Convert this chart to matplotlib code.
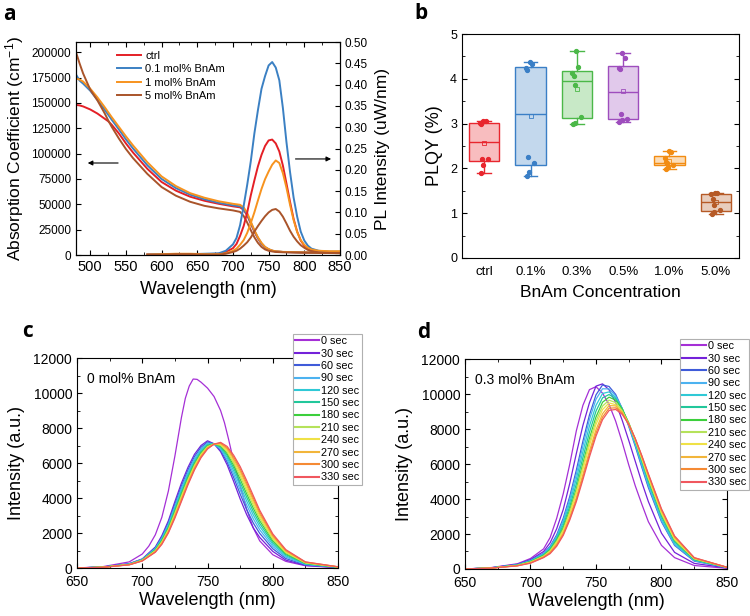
import matplotlib
matplotlib.use('Agg')
import matplotlib.pyplot as plt
import numpy as np
from matplotlib.ticker import MultipleLocator, FormatStrFormatter
from matplotlib.lines import Line2D

plt.rcParams['font.family'] = ['Liberation Sans', 'DejaVu Sans']
plt.rcParams['mathtext.default'] = 'regular'

# ---------------- panel a : absorption + PL ----------------
abs_wl = [480, 485, 490, 500, 510, 520, 525, 530, 540, 550, 560, 580, 600, 620, 640, 660,
          680, 700, 710, 715, 720, 725, 730, 735, 740, 745, 750, 755, 760, 770, 800, 850]
abs_ctrl = [148000, 147500, 146500, 143500, 139500, 134500, 132000, 128500, 120000, 110000,
            101000, 85000, 72000, 63500, 57500, 53500, 50500, 48000, 47000, 44500, 39000,
            31000, 23000, 16500, 11000, 7500, 5500, 4200, 3500, 3000, 2500, 2000]
abs_01 = [178000, 172000, 169000, 162000, 153000, 143500, 138500, 133500, 124000, 114000,
          105000, 88500, 75000, 66000, 59500, 55000, 51500, 49000, 48000, 45500, 40000,
          32000, 24000, 17000, 11500, 7800, 5700, 4300, 3600, 3000, 2500, 2000]
abs_1 = [174000, 173000, 171000, 164000, 155500, 146000, 141000, 136000, 126500, 117000,
         108000, 91500, 77500, 68000, 61000, 56500, 53000, 50500, 49500, 47000, 41500,
         33000, 24500, 17500, 12000, 8000, 5800, 4400, 3700, 3100, 2600, 2100]
abs_5 = [200000, 189000, 179000, 163000, 152500, 140000, 133000, 126500, 115000, 104500,
         95500, 80000, 67000, 58500, 52500, 48500, 46000, 44000, 42500, 38500, 32000,
         24500, 17500, 12000, 8000, 5500, 4200, 3500, 3000, 2700, 2300, 1800]

pl_wl = [580, 600, 620, 640, 660, 680, 690, 700, 705, 710, 715, 720, 725, 730, 735, 740, 745,
         750, 755, 760, 765, 770, 775, 780, 785, 790, 795, 800, 805, 810, 820, 835, 850]
pl_ctrl = [0.001, 0.001, 0.002, 0.002, 0.002, 0.003, 0.007, 0.016, 0.026, 0.045, 0.068, 0.100,
           0.140, 0.175, 0.208, 0.235, 0.256, 0.269, 0.271, 0.262, 0.243, 0.210, 0.168, 0.125,
           0.085, 0.055, 0.034, 0.022, 0.015, 0.011, 0.008, 0.007, 0.007]
pl_01 = [0.001, 0.002, 0.002, 0.002, 0.003, 0.004, 0.010, 0.025, 0.040, 0.070, 0.115, 0.165,
         0.220, 0.285, 0.340, 0.390, 0.420, 0.445, 0.453, 0.440, 0.410, 0.345, 0.265, 0.195,
         0.135, 0.090, 0.055, 0.034, 0.022, 0.015, 0.010, 0.008, 0.008]
pl_1 = [0.001, 0.002, 0.003, 0.003, 0.002, 0.002, 0.004, 0.010, 0.015, 0.024, 0.035, 0.052,
        0.075, 0.100, 0.128, 0.155, 0.178, 0.196, 0.212, 0.222, 0.216, 0.192, 0.158, 0.118,
        0.082, 0.054, 0.035, 0.024, 0.017, 0.013, 0.010, 0.009, 0.009]
pl_5 = [0.001, 0.001, 0.002, 0.002, 0.001, 0.001, 0.003, 0.007, 0.010, 0.015, 0.022, 0.030,
        0.041, 0.055, 0.068, 0.080, 0.091, 0.100, 0.106, 0.108, 0.102, 0.090, 0.074, 0.057,
        0.043, 0.032, 0.023, 0.017, 0.012, 0.009, 0.006, 0.005, 0.005]

a_labels = ['ctrl', '0.1 mol% BnAm', '1 mol% BnAm', '5 mol% BnAm']
a_colors = ['#e41f26', '#3b80c3', '#f7931e', '#a9542a']

# ---------------- panel b : PLQY ----------------
b_groups = ['ctrl', '0.1%', '0.3%', '0.5%', '1.0%', '5.0%']
plqy_ctrl = [3.06, 3.05, 3.01, 2.98, 2.22, 2.20, 2.08, 1.90]
plqy_01 = [4.37, 4.33, 4.25, 4.19, 2.26, 2.13, 1.91, 1.84]
plqy_03 = [4.63, 4.26, 4.14, 4.06, 3.86, 3.15, 3.01, 2.98]
plqy_05 = [4.57, 4.46, 4.23, 4.21, 3.21, 3.10, 3.07, 3.04]
plqy_10 = [2.38, 2.36, 2.24, 2.15, 2.11, 2.08, 2.02, 1.99]
plqy_50 = [1.46, 1.45, 1.43, 1.32, 1.18, 1.06, 1.02, 0.99]
b_colors = ['#e8262e', '#3a7fc6', '#4bb848', '#9e4dbd', '#f28c12', '#b65a26']

# ---------------- panels c, d : spectra vs time ----------------
time_labels = ['0 sec', '30 sec', '60 sec', '90 sec', '120 sec', '150 sec', '180 sec',
               '210 sec', '240 sec', '270 sec', '300 sec', '330 sec']
time_colors = ['#a52fd6', '#7422d9', '#3f5bd9', '#4cb2f0', '#2fc9d6', '#22c79b', '#3ccf3c',
               '#b5e25a', '#efe146', '#f2b53a', '#f58a34', '#f0575e']

spec_wl = [650, 670, 690, 700, 710, 715, 720, 725, 730, 735, 740, 745, 750, 755, 760, 765,
           770, 775, 780, 785, 790, 800, 810, 825, 850]

# 0 sec / 0 mol% has a sharper peak, so it is read on its own finer grid
c0_wl = [650, 670, 690, 700, 705, 710, 715, 720, 725, 730, 733, 736, 739, 742, 745, 750, 755,
         760, 763, 766, 770, 775, 780, 785, 790, 800, 810, 825, 850]
c_0s = [0, 80, 350, 800, 1250, 1900, 2900, 4400, 6400, 8600, 9700, 10400, 10800, 10780, 10620,
        10280, 9800, 9000, 8300, 7400, 6100, 4700, 3350, 2300, 1550, 760, 380, 130, 20]
c_30s = [0, 60, 250, 520, 1200, 1850, 2700, 3800, 4850, 5750, 6500, 7000, 7270, 7100, 6650,
         5900, 4950, 3950, 3050, 2300, 1750, 950, 450, 150, 30]
c_60s = [0, 60, 240, 500, 1160, 1780, 2600, 3660, 4690, 5600, 6370, 6900, 7200, 7100, 6730,
         6060, 5180, 4230, 3340, 2580, 1980, 1100, 540, 180, 40]
c_90s = [0, 50, 230, 490, 1120, 1710, 2500, 3530, 4560, 5470, 6250, 6800, 7140, 7090, 6800,
         6190, 5370, 4470, 3600, 2820, 2180, 1230, 620, 210, 40]
c_120s = [0, 50, 220, 470, 1080, 1650, 2420, 3420, 4430, 5350, 6140, 6720, 7080, 7090, 6860,
          6320, 5550, 4690, 3830, 3040, 2370, 1350, 690, 230, 50]
c_150s = [0, 50, 210, 460, 1050, 1600, 2340, 3320, 4310, 5240, 6040, 6640, 7030, 7090, 6920,
          6440, 5720, 4890, 4050, 3240, 2540, 1460, 760, 250, 50]
c_180s = [0, 50, 210, 450, 1020, 1550, 2270, 3220, 4210, 5140, 5950, 6570, 6980, 7090, 6970,
          6540, 5870, 5080, 4240, 3430, 2700, 1560, 820, 270, 50]
c_210s = [0, 50, 200, 440, 990, 1500, 2210, 3140, 4120, 5050, 5870, 6510, 6940, 7090, 7020,
          6640, 6000, 5250, 4420, 3600, 2840, 1650, 870, 290, 60]
c_240s = [0, 40, 200, 430, 970, 1460, 2150, 3060, 4030, 4970, 5800, 6450, 6900, 7080, 7060,
          6720, 6120, 5390, 4570, 3740, 2960, 1730, 920, 310, 60]
c_270s = [0, 40, 190, 420, 940, 1420, 2100, 2980, 3950, 4890, 5730, 6400, 6870, 7080, 7110,
          6800, 6240, 5540, 4730, 3890, 3080, 1810, 970, 320, 60]
c_300s = [0, 40, 190, 410, 920, 1390, 2050, 2920, 3870, 4820, 5660, 6350, 6830, 7080, 7140,
          6880, 6350, 5670, 4860, 4020, 3190, 1880, 1010, 340, 70]
c_330s = [0, 40, 180, 400, 900, 1350, 2000, 2850, 3800, 4750, 5600, 6300, 6800, 7080, 7180,
          6950, 6450, 5800, 5000, 4150, 3300, 1950, 1050, 350, 70]

d_0s = [0, 80, 300, 600, 1150, 1800, 2900, 4300, 6000, 7900, 9350, 10250, 10420, 10050, 9400,
        8450, 7250, 5950, 4750, 3700, 2700, 1350, 650, 200, 40]
d_30s = [0, 70, 270, 540, 1000, 1500, 2300, 3400, 4900, 6600, 8200, 9500, 10450, 10580, 10240,
         9520, 8500, 7350, 6150, 4950, 3850, 2050, 950, 320, 60]
d_60s = [0, 65, 250, 500, 900, 1300, 1950, 2900, 4150, 5650, 7300, 8800, 9950, 10520, 10430,
         9980, 9170, 8150, 7010, 5810, 4650, 2700, 1350, 450, 80]
d_90s = [0, 63, 240, 475, 870, 1250, 1870, 2780, 4000, 5430, 7040, 8540, 9700, 10300, 10290,
         9890, 9170, 8210, 7090, 5910, 4760, 2760, 1390, 480, 85]
d_120s = [0, 61, 230, 455, 830, 1200, 1800, 2650, 3800, 5150, 6700, 8170, 9350, 10030, 10120,
          9800, 9160, 8260, 7180, 6030, 4890, 2880, 1470, 500, 88]
d_150s = [0, 59, 220, 435, 800, 1150, 1720, 2500, 3580, 4860, 6360, 7810, 9020, 9780, 9970,
          9730, 9150, 8310, 7280, 6160, 5020, 3000, 1560, 530, 90]
d_180s = [0, 57, 212, 415, 770, 1100, 1650, 2350, 3380, 4580, 6030, 7470, 8690, 9530, 9820,
          9650, 9140, 8360, 7380, 6290, 5160, 3130, 1650, 560, 92]
d_210s = [0, 55, 205, 395, 740, 1050, 1580, 2250, 3270, 4450, 5850, 7250, 8460, 9310, 9650,
          9510, 9050, 8310, 7360, 6290, 5180, 3170, 1680, 580, 94]
d_240s = [0, 54, 198, 380, 710, 1000, 1500, 2180, 3170, 4330, 5690, 7050, 8250, 9110, 9490,
          9390, 8970, 8260, 7340, 6300, 5210, 3210, 1710, 600, 96]
d_270s = [0, 53, 192, 365, 690, 960, 1430, 2050, 2980, 4080, 5400, 6740, 7960, 8870, 9340,
          9320, 8960, 8310, 7440, 6430, 5360, 3340, 1810, 620, 98]
d_300s = [0, 51, 186, 348, 670, 920, 1360, 1980, 2880, 3950, 5240, 6560, 7760, 8680, 9190,
          9210, 8890, 8270, 7430, 6440, 5390, 3390, 1850, 640, 99]
d_330s = [0, 50, 180, 330, 650, 880, 1300, 1920, 2800, 3850, 5100, 6400, 7590, 8530, 9060,
          9120, 8840, 8260, 7450, 6480, 5440, 3440, 1890, 650, 100]

c_curves = [c_0s, c_30s, c_60s, c_90s, c_120s, c_150s, c_180s, c_210s, c_240s, c_270s,
            c_300s, c_330s]
c_grids = [c0_wl] + [spec_wl] * 11
d_curves = [d_0s, d_30s, d_60s, d_90s, d_120s, d_150s, d_180s, d_210s, d_240s, d_270s,
            d_300s, d_330s]
d_grids = [spec_wl] * 12

fig = plt.figure(figsize=(7.5, 6.16), dpi=100)

# panel a
ax_a = fig.add_axes([0.1013, 0.586, 0.352, 0.3458])
for y, c, lab in zip([abs_ctrl, abs_01, abs_1, abs_5], a_colors, a_labels):
    ax_a.plot(abs_wl, y, color=c, lw=1.4, label=lab)
ax_a.set_xlim(480, 850)
ax_a.set_ylim(0, 210000)
ax_a.xaxis.set_major_locator(MultipleLocator(50))
ax_a.xaxis.set_minor_locator(MultipleLocator(25))
ax_a.yaxis.set_major_locator(MultipleLocator(25000))
ax_a.tick_params(direction='in', which='both', top=True)
ax_a.tick_params(axis='x', labelsize=10.5)
ax_a.tick_params(axis='y', labelsize=8.5)
ax_a.set_xlabel('Wavelength (nm)', fontsize=13, labelpad=5)
ax_a.set_ylabel('Absorption Coefficient (cm$^{-1}$)', fontsize=12.5, labelpad=4)

ax_a2 = ax_a.twinx()
for y, c in zip([pl_ctrl, pl_01, pl_1, pl_5], a_colors):
    ax_a2.plot(pl_wl, y, color=c, lw=1.4)
ax_a2.set_ylim(0, 0.5)
ax_a2.yaxis.set_major_locator(MultipleLocator(0.05))
ax_a2.yaxis.set_major_formatter(FormatStrFormatter('%.2f'))
ax_a2.tick_params(direction='in', labelsize=8.5)
ax_a2.set_ylabel('PL Intensity (uW/nm)', fontsize=12.5, labelpad=5)

h, l = ax_a.get_legend_handles_labels()
ax_a2.legend(h, l, loc='upper left', bbox_to_anchor=(0.155, 0.96), frameon=False,
             fontsize=8, labelspacing=0.32, handlelength=2.2, handletextpad=0.35,
             borderpad=0, borderaxespad=0)
arrow = dict(arrowstyle='-|>', color='black', lw=0.8, mutation_scale=7)
ax_a2.annotate('', xy=(0.034, 0.432), xytext=(0.17, 0.432), xycoords='axes fraction',
               arrowprops=arrow)
ax_a2.annotate('', xy=(0.977, 0.451), xytext=(0.821, 0.451), xycoords='axes fraction',
               arrowprops=arrow)

# panel b
ax_b = fig.add_axes([0.616, 0.5812, 0.3693, 0.3636])
plqy = [plqy_ctrl, plqy_01, plqy_03, plqy_05, plqy_10, plqy_50]
pos = np.arange(1, 7)
bp = ax_b.boxplot(plqy, positions=pos, widths=0.65, whis=(0, 100), patch_artist=True,
                  showmeans=True, showfliers=False, capwidths=0.3)
jitter = [-0.02, 0.03, -0.1, -0.07, -0.05, 0.08, -0.03, -0.08]
for i, c in enumerate(b_colors):
    bp['boxes'][i].set_facecolor(matplotlib.colors.to_rgba(c, 0.3))
    bp['boxes'][i].set_edgecolor(c)
    bp['boxes'][i].set_linewidth(1.0)
    bp['medians'][i].set_color(c)
    bp['medians'][i].set_linewidth(1.0)
    for w in bp['whiskers'][2 * i:2 * i + 2] + bp['caps'][2 * i:2 * i + 2]:
        w.set_color(c)
        w.set_linewidth(1.0)
    bp['means'][i].set(marker='s', markersize=3, markerfacecolor='none',
                       markeredgecolor=c, markeredgewidth=0.6)
    ax_b.plot(pos[i] + np.array(jitter[:len(plqy[i])]), plqy[i], 'o', ms=2.8,
              color=c, zorder=4)
ax_b.set_xlim(0.52, 6.5)
ax_b.set_ylim(0, 5)
ax_b.set_xticks(pos, b_groups)
ax_b.yaxis.set_major_locator(MultipleLocator(1))
ax_b.yaxis.set_minor_locator(MultipleLocator(0.5))
ax_b.tick_params(axis='y', direction='in', which='both', right=True, labelsize=9)
ax_b.tick_params(axis='x', length=0, labelsize=9.5, pad=6)
ax_b.set_ylabel('PLQY (%)', fontsize=13, labelpad=5)
ax_b.set_xlabel('BnAm Concentration', fontsize=12.5, labelpad=5)


def spectra_panel(ax, grids, curves, note, leg_xy):
    for x, y, c in zip(grids, curves, time_colors):
        ax.plot(x, y, color=c, lw=0.9)
    ax.set_xlim(650, 850)
    ax.set_ylim(0, 12000)
    ax.xaxis.set_major_locator(MultipleLocator(50))
    ax.xaxis.set_minor_locator(MultipleLocator(25))
    ax.yaxis.set_major_locator(MultipleLocator(2000))
    ax.yaxis.set_minor_locator(MultipleLocator(1000))
    ax.tick_params(direction='in', which='both', top=True, right=True, labelsize=10)
    ax.tick_params(axis='x', pad=5)
    ax.set_xlabel('Wavelength (nm)', fontsize=13, labelpad=2)
    ax.set_ylabel('Intensity (a.u.)', fontsize=13, labelpad=6)
    ax.text(0.04, 0.9, note, transform=ax.transAxes, fontsize=10, va='center')
    handles = [Line2D([], [], color=c, lw=1.5) for c in time_colors]
    leg = ax.legend(handles, time_labels, loc='upper left', bbox_to_anchor=leg_xy,
                    bbox_transform=fig.transFigure, fontsize=7.8, labelspacing=0.22,
                    handlelength=2.2, handletextpad=0.2, borderpad=0.2, borderaxespad=0,
                    fancybox=False, edgecolor='#b0b0b0', framealpha=1)
    leg.get_frame().set_linewidth(0.8)


ax_c = fig.add_axes([0.1027, 0.0779, 0.348, 0.3409])
spectra_panel(ax_c, c_grids, c_curves, '0 mol% BnAm', (0.3907, 0.4578))
ax_d = fig.add_axes([0.62, 0.0763, 0.3493, 0.3409])
spectra_panel(ax_d, d_grids, d_curves, '0.3 mol% BnAm', (0.907, 0.4497))

for x, y, s in [(0.004, 0.968, 'a'), (0.553, 0.969, 'b'), (0.029, 0.453, 'c'), (0.556, 0.451, 'd')]:
    fig.text(x, y, s, fontsize=15, fontweight='bold', family=['Open Sans', 'DejaVu Sans'])

fig.savefig('out.png', dpi=100)
